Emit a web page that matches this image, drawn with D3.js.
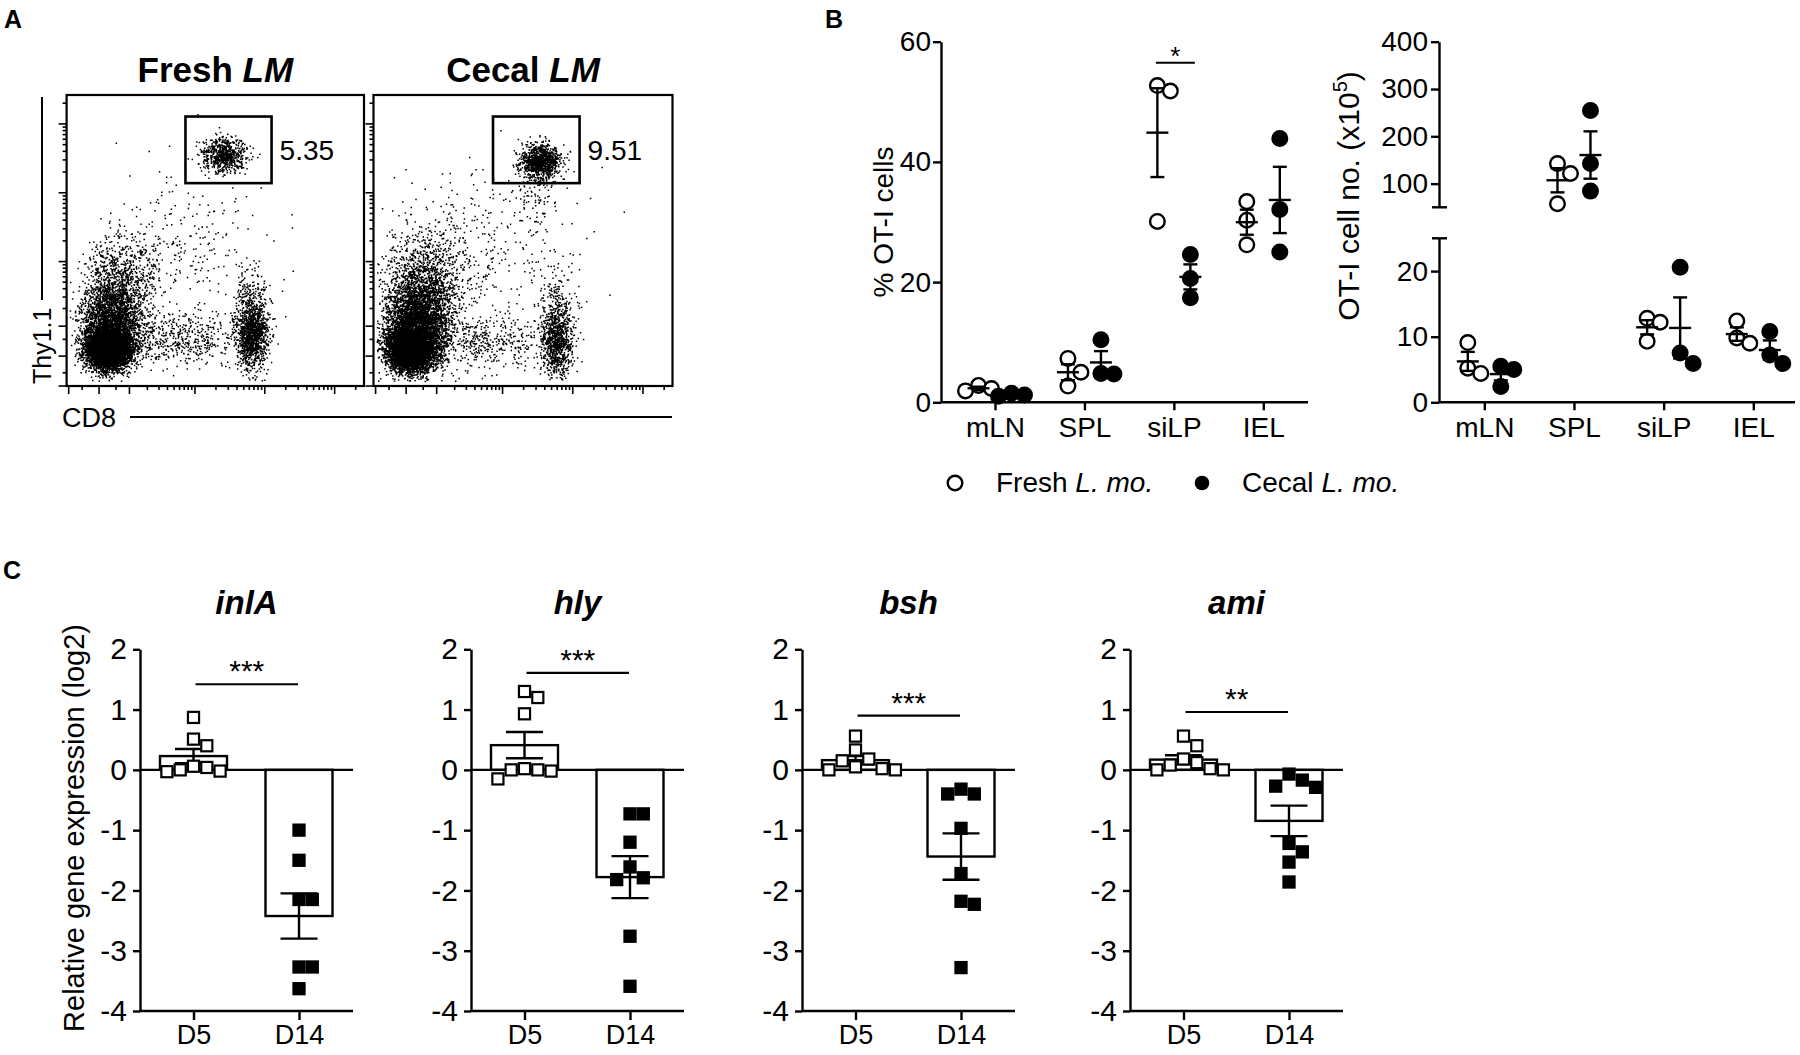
<!DOCTYPE html>
<html>
<head>
<meta charset="utf-8">
<script src="https://cdn.jsdelivr.net/npm/d3@7"></script>
<style>
  body { margin: 0; background: #fff; }
  svg text { font-family: Arial, "Liberation Sans", sans-serif; fill: #000; }
</style>
</head>
<body>
<script>
// ---------- panel A : flow plots (CD8 vs Thy1.1) ----------
// event clouds: [events, CD8 centre, Thy1.1 centre, CD8 sd, Thy1.1 sd] in biex display units
const freshEvents = [
  [5200, 0.30, 0.22, 0.36, 0.34],
  [2300, 0.40, 1.15, 0.48, 0.62],
  [900, 0.70, 2.40, 0.62, 0.85],
  [1300, 5.05, 0.70, 0.26, 0.58],
  [180, 5.00, 2.00, 0.30, 0.60],
  [550, 2.60, 0.55, 1.10, 0.45],
  [240, 2.80, 3.50, 1.30, 1.30],
  [700, 4.15, 6.70, 0.36, 0.30]
]
const cecalEvents = [
  [5200, 0.18, 0.25, 0.42, 0.38],
  [3000, 0.38, 1.25, 0.52, 0.68],
  [1100, 0.62, 2.55, 0.68, 0.88],
  [950, 4.95, 0.50, 0.26, 0.62],
  [140, 4.90, 1.80, 0.30, 0.60],
  [480, 2.60, 0.50, 1.10, 0.45],
  [300, 2.80, 3.60, 1.40, 1.30],
  [1000, 4.40, 6.50, 0.33, 0.30],
  [90, 4.30, 5.50, 0.40, 0.50]
]
const flowMajorTicks = [-100, 0, 100, 1000, 10000, 100000]
const flowMinorTicks = [-50, 50, 200, 300, 400, 500, 600, 700, 800, 900,
  2000, 3000, 4000, 5000, 6000, 7000, 8000, 9000,
  20000, 30000, 40000, 50000, 60000, 70000, 80000, 90000, 200000]
const gateCD8 = [730, 12500]
const gateThy = [13800, 128000]
const gatePct = ['5.35', '9.51']

// ---------- panel B ----------
const organs = ['mLN', 'SPL', 'siLP', 'IEL']
const pctFresh = [[2.8, 2.3, 1.9], [7.3, 5.0, 2.7], [52.7, 51.8, 30.1], [33.4, 30.3, 26.2]]
const pctCecal = [[1.5, 1.2, 1.0], [10.4, 4.8, 4.7], [24.6, 20.6, 17.4], [43.9, 32.1, 25.0]]
const pctTicks = [0, 20, 40, 60]
const numFresh = [[9.1, 5.2, 4.4], [142.5, 121.4, 57.5], [12.8, 12.2, 9.3], [12.4, 9.8, 9.0]]
const numCecal = [[5.5, 5.0, 2.4], [254.7, 142.5, 84.2], [20.6, 7.5, 5.9], [10.8, 7.2, 5.9]]
const numTicksLow = [0, 10, 20]
const numTicksHigh = [100, 200, 300, 400]

// ---------- panel C ----------
const genes = ['inlA', 'hly', 'bsh', 'ami']
const days = ['D5', 'D14']
const exprD5 = [
  [0.87, 0.51, 0.40, 0.06, 0.04, 0.00, -0.02, -0.03],
  [1.30, 1.20, 0.93, 0.02, 0.00, 0.00, -0.02, -0.15],
  [0.56, 0.33, 0.18, 0.15, 0.05, 0.02, 0.00, 0.00],
  [0.56, 0.40, 0.18, 0.12, 0.08, 0.02, 0.00, 0.00]
]
const exprD14 = [
  [-1.00, -1.50, -2.15, -2.15, -3.27, -3.27, -3.63],
  [-0.73, -0.73, -1.20, -1.61, -1.79, -1.82, -2.76, -3.59],
  [-0.32, -0.40, -0.40, -0.97, -1.72, -2.18, -2.23, -3.28],
  [-0.07, -0.17, -0.27, -0.29, -1.22, -1.36, -1.53, -1.86]
]
const exprTicks = [-4, -3, -2, -1, 0, 1, 2]
const sigStars = ['***', '***', '***', '**']
const sigLevel = [1.42, 1.61, 0.90, 0.96]

const width = 1800
const height = 1055
const lw = 2.4

const svg = d3.select('body')
  .append('svg')
  .attr('width', width)
  .attr('height', height)

function panelLetter(t, x, y) {
  svg.append('text').attr('x', x).attr('y', y)
    .attr('font-size', 25).attr('font-weight', 'bold').text(t)
}
panelLetter('A', 4, 28)
panelLetter('B', 825, 28)
panelLetter('C', 3, 579)

const mean = v => d3.mean(v)
const sem = v => d3.deviation(v) / Math.sqrt(v.length)

// simple GraphPad-like scatter: 0, +s, -s, +2s ... until no overlap
function swarm(vals, yf, size, k) {
  const placed = []
  vals.map(v => ({ v, py: yf(v) }))
    .sort((a, b) => a.py - b.py)
    .forEach(d => {
      for (let i = 0; ; i++) {
        const off = i === 0 ? 0 : (i % 2 ? 1 : -1) * Math.ceil(i / 2) * size
        const hit = placed.some(p => Math.abs(p.off - off) < size - 0.01 && Math.abs(p.py - d.py) < size * k)
        if (!hit) { d.off = off; placed.push(d); break }
      }
    })
  return placed
}

// ================= panel A =================
const biex = v => Math.asinh(v / 85)
const rng = d3.randomLcg(11)
const normal = d3.randomNormal.source(rng)

const flowTop = 95, flowBottom = 386
const flowPlots = [
  { name: 'Fresh', events: freshEvents, x0: 66.6, x1: 364 },
  { name: 'Cecal', events: cecalEvents, x0: 373.5, x1: 672.5 }
]

flowPlots.forEach((fp, idx) => {
  const fx = d3.scaleLinear().domain([-1.07, 8.73]).range([fp.x0, fp.x1])
  const fy = d3.scaleLinear().domain([-1, 8.73]).range([flowBottom, flowTop])
  const g = svg.append('g')

  const p = d3.path()
  fp.events.forEach(c => {
    const gx = normal(c[1], c[3]), gy = normal(c[2], c[4])
    for (let i = 0; i < c[0]; i++) {
      const u = gx(), w = gy()
      if (u < -0.95 || u > 8.6 || w < -0.85 || w > 8.6) continue
      p.rect(fx(u) - 0.75, fy(w) - 0.75, 1.5, 1.5)
    }
  })
  g.append('path').attr('d', p.toString()).attr('fill', '#000')

  g.append('rect')
    .attr('x', fp.x0).attr('y', flowTop)
    .attr('width', fp.x1 - fp.x0).attr('height', flowBottom - flowTop)
    .attr('fill', 'none').attr('stroke', '#000').attr('stroke-width', 2.2)

  // ticks
  const tickSet = flowMajorTicks.map(v => [v, 8]).concat(flowMinorTicks.map(v => [v, 4]))
  g.selectAll('.xt').data(tickSet).join('line')
    .attr('x1', d => fx(biex(d[0]))).attr('x2', d => fx(biex(d[0])))
    .attr('y1', flowBottom).attr('y2', d => flowBottom + d[1])
    .attr('stroke', '#000').attr('stroke-width', 1.6)
  g.selectAll('.yt').data(tickSet).join('line')
    .attr('y1', d => fy(biex(d[0]))).attr('y2', d => fy(biex(d[0])))
    .attr('x1', fp.x0).attr('x2', d => fp.x0 - d[1])
    .attr('stroke', '#000').attr('stroke-width', 1.6)

  // OT-I gate
  const gx0 = fx(biex(gateCD8[0])), gx1 = fx(biex(gateCD8[1]))
  const gy0 = fy(biex(gateThy[1])), gy1 = fy(biex(gateThy[0]))
  g.append('rect').attr('x', gx0).attr('y', gy0)
    .attr('width', gx1 - gx0).attr('height', gy1 - gy0)
    .attr('fill', 'none').attr('stroke', '#000').attr('stroke-width', 2.6)
  g.append('text').attr('x', gx1 + 8).attr('y', (gy0 + gy1) / 2 + 10)
    .attr('font-size', 28).text(gatePct[idx])

  const t = g.append('text').attr('x', (fp.x0 + fp.x1) / 2).attr('y', 82)
    .attr('text-anchor', 'middle').attr('font-size', 35).attr('font-weight', 'bold')
  t.append('tspan').text(fp.name + ' ')
  t.append('tspan').attr('font-style', 'italic').text('LM')
})

// axis titles of the flow plots
svg.append('line').attr('x1', 42).attr('x2', 42).attr('y1', 97).attr('y2', 300)
  .attr('stroke', '#000').attr('stroke-width', 2)
svg.append('text').attr('transform', 'translate(51,384) rotate(-90)')
  .attr('font-size', 25).text('Thy1.1')
svg.append('line').attr('x1', 130).attr('x2', 672).attr('y1', 417).attr('y2', 417)
  .attr('stroke', '#000').attr('stroke-width', 2)
svg.append('text').attr('x', 62).attr('y', 427).attr('font-size', 27).text('CD8')

// ================= panel B =================
const shift = [-16.5, 16.5]
const circR = 7.3

function styleAxis(g, fs) {
  g.selectAll('path, line').attr('stroke', '#000').attr('stroke-width', lw)
  g.selectAll('text').attr('font-size', fs).attr('fill', '#000')
    .attr('font-family', 'Arial, "Liberation Sans", sans-serif')
}

function drawGroups(g, xs, yf, data) {
  data.forEach((series, gi) => {
    series.forEach((vals, oi) => {
      const cx = xs(organs[oi]) + shift[gi]
      const pts = swarm(vals, yf, 13, 1.3)
      g.selectAll(null).data(pts).join('circle')
        .attr('cx', d => cx + d.off).attr('cy', d => d.py).attr('r', circR)
        .attr('fill', gi === 0 ? '#fff' : '#000')
        .attr('stroke', '#000').attr('stroke-width', lw)
      const m = mean(vals), s = sem(vals)
      const eb = g.append('g').attr('stroke', '#000').attr('stroke-width', lw)
      eb.append('line').attr('x1', cx).attr('x2', cx).attr('y1', yf(m - s)).attr('y2', yf(m + s))
      eb.append('line').attr('x1', cx - 11).attr('x2', cx + 11).attr('y1', yf(m)).attr('y2', yf(m))
      ;[m - s, m + s].forEach(v => eb.append('line')
        .attr('x1', cx - 7).attr('x2', cx + 7).attr('y1', yf(v)).attr('y2', yf(v)))
    })
  })
}

// left: % OT-I cells
const bBase = 402.3
const yPct = d3.scaleLinear().domain([0, 60]).range([bBase, 41.7])
const xOrgL = d3.scalePoint().domain(organs).range([995, 1263.3])
const bL = svg.append('g')
bL.append('g').attr('transform', 'translate(941,0)')
  .call(d3.axisLeft(yPct).tickValues(pctTicks).tickSize(8).tickSizeOuter(0).tickPadding(2))
  .call(g => styleAxis(g, 28))
bL.append('g').attr('transform', `translate(0,${bBase})`)
  .call(d3.axisBottom(xOrgL).tickSize(8).tickPadding(7))
  .call(g => g.select('.domain').remove())
  .call(g => styleAxis(g, 28))
bL.append('line').attr('x1', 941).attr('x2', 1308).attr('y1', bBase).attr('y2', bBase)
  .attr('stroke', '#000').attr('stroke-width', lw)
bL.append('text').attr('transform', 'translate(893,222) rotate(-90)')
  .attr('text-anchor', 'middle').attr('font-size', 28).text('% OT-I cells')
drawGroups(bL, xOrgL, yPct, [pctFresh, pctCecal])

const sigX = xOrgL('siLP')
bL.append('line').attr('x1', sigX - 18).attr('x2', sigX + 21)
  .attr('y1', yPct(56.5)).attr('y2', yPct(56.5))
  .attr('stroke', '#000').attr('stroke-width', 2.2)
bL.append('text').attr('x', sigX + 1.5).attr('y', yPct(56.5) + 2)
  .attr('text-anchor', 'middle').attr('font-size', 26).text('*')

// right: OT-I cell number with a broken axis
const yNumLow = d3.scaleLinear().domain([0, 25]).range([bBase, 238.3])
const yNumHigh = d3.scaleLinear().domain([50, 400]).range([207.3, 41.7])
const yNum = v => v >= 50 ? yNumHigh(v) : yNumLow(v)
const xOrgR = d3.scalePoint().domain(organs).range([1484.3, 1753.3])
const bR = svg.append('g')
;[[yNumLow, numTicksLow], [yNumHigh, numTicksHigh]].forEach(([sc, tv]) => {
  bR.append('g').attr('transform', 'translate(1439,0)')
    .call(d3.axisLeft(sc).tickValues(tv).tickSize(8).tickSizeOuter(0).tickPadding(3))
    .call(g => styleAxis(g, 28))
})
;[yNumLow(25), yNumHigh(50)].forEach(y => bR.append('line')
  .attr('x1', 1432).attr('x2', 1447).attr('y1', y).attr('y2', y)
  .attr('stroke', '#000').attr('stroke-width', lw))
bR.append('g').attr('transform', `translate(0,${bBase})`)
  .call(d3.axisBottom(xOrgR).tickSize(8).tickPadding(7))
  .call(g => g.select('.domain').remove())
  .call(g => styleAxis(g, 28))
bR.append('line').attr('x1', 1439).attr('x2', 1795).attr('y1', bBase).attr('y2', bBase)
  .attr('stroke', '#000').attr('stroke-width', lw)
const yl = bR.append('text').attr('transform', 'translate(1359,196) rotate(-90)')
  .attr('text-anchor', 'middle').attr('font-size', 30)
yl.append('tspan').text('OT-I cell no. (x10')
yl.append('tspan').attr('font-size', 20).attr('dy', -12).text('5')
yl.append('tspan').attr('dy', 12).text(')')
drawGroups(bR, xOrgR, yNum, [numFresh, numCecal])

// legend
const leg = svg.append('g').attr('font-size', 28)
leg.append('circle').attr('cx', 955).attr('cy', 483).attr('r', circR)
  .attr('fill', '#fff').attr('stroke', '#000').attr('stroke-width', lw)
leg.append('circle').attr('cx', 1202).attr('cy', 483).attr('r', circR).attr('fill', '#000')
const l1 = leg.append('text').attr('x', 996).attr('y', 492)
l1.append('tspan').text('Fresh ')
l1.append('tspan').attr('font-style', 'italic').text('L. mo.')
const l2 = leg.append('text').attr('x', 1242).attr('y', 492)
l2.append('tspan').text('Cecal ')
l2.append('tspan').attr('font-style', 'italic').text('L. mo.')

// ================= panel C =================
const cAxisX = [140, 471, 802, 1130]
const cWidth = 213
const yExpr = d3.scaleLinear().domain([-4, 2]).range([1011, 649.3])
const sq = 13.3
const barW = 67

svg.append('text').attr('transform', 'translate(84,828) rotate(-90)')
  .attr('text-anchor', 'middle').attr('font-size', 29).text('Relative gene expression (log2)')

genes.forEach((gene, gi) => {
  const x0 = cAxisX[gi], x1 = x0 + cWidth
  const g = svg.append('g')
  const xd = d3.scalePoint().domain(days).range([x0 + 53.5, x0 + 159])

  g.append('g').attr('transform', `translate(${x0},0)`)
    .call(d3.axisLeft(yExpr).tickValues(exprTicks).tickFormat(d => String(d))
      .tickSize(7).tickSizeOuter(0).tickPadding(6))
    .call(a => styleAxis(a, 30))
  g.append('g').attr('transform', `translate(0,${yExpr(-4)})`)
    .call(d3.axisBottom(xd).tickSize(9).tickPadding(5))
    .call(a => a.select('.domain').remove())
    .call(a => styleAxis(a, 27))
  ;[-4, 0].forEach(v => g.append('line').attr('x1', x0).attr('x2', x1)
    .attr('y1', yExpr(v)).attr('y2', yExpr(v)).attr('stroke', '#000').attr('stroke-width', lw))

  const sets = [exprD5[gi], exprD14[gi]]
  sets.forEach((vals, di) => {
    const cx = xd(days[di])
    const m = mean(vals), s = sem(vals)
    g.append('rect').attr('x', cx - barW / 2).attr('width', barW)
      .attr('y', Math.min(yExpr(0), yExpr(m))).attr('height', Math.abs(yExpr(m) - yExpr(0)))
      .attr('fill', 'none').attr('stroke', '#000').attr('stroke-width', lw)
    const eb = g.append('g').attr('stroke', '#000').attr('stroke-width', lw)
    eb.append('line').attr('x1', cx).attr('x2', cx).attr('y1', yExpr(m - s)).attr('y2', yExpr(m + s))
    ;[m - s, m + s].forEach(v => eb.append('line')
      .attr('x1', cx - 18.5).attr('x2', cx + 18.5).attr('y1', yExpr(v)).attr('y2', yExpr(v)))

    const pts = swarm(vals, yExpr, sq, 1.0)
    const side = di === 0 ? sq - 2.2 : sq
    g.selectAll(null).data(pts).join('rect')
      .attr('x', d => cx + d.off - side / 2)
      .attr('y', d => d.py - side / 2)
      .attr('width', side).attr('height', side)
      .attr('fill', di === 0 ? '#fff' : '#000')
      .attr('stroke', di === 0 ? '#000' : 'none').attr('stroke-width', 2.2)
  })

  // significance
  const sy = yExpr(sigLevel[gi])
  const sx0 = xd('D5') + 2, sx1 = xd('D14') - 1
  g.append('line').attr('x1', sx0).attr('x2', sx1).attr('y1', sy).attr('y2', sy)
    .attr('stroke', '#000').attr('stroke-width', 2.2)
  g.append('text').attr('x', (sx0 + sx1) / 2).attr('y', sy - 3)
    .attr('text-anchor', 'middle').attr('font-size', 30).text(sigStars[gi])

  g.append('text').attr('x', (x0 + x1) / 2).attr('y', 614)
    .attr('text-anchor', 'middle').attr('font-size', 33)
    .attr('font-weight', 'bold').attr('font-style', 'italic').text(gene)
})
</script>
</body>
</html>
